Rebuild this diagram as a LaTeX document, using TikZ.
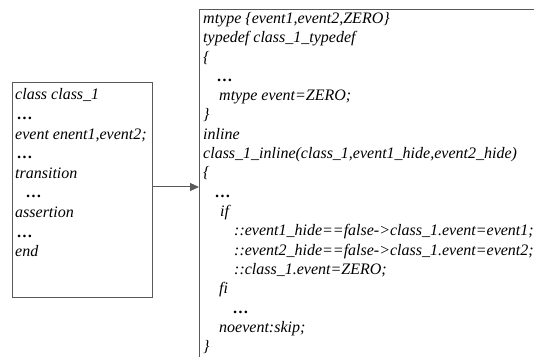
\documentclass[tikz,border=0pt]{standalone}
\usepackage{fontspec}
\setmainfont{Liberation Serif}
\usetikzlibrary{arrows.meta}
\begin{document}
\begin{tikzpicture}[x=1pt,y=1pt,
  boxline/.style={draw=black!65,line width=1pt},
  codeline/.style={anchor=base west,inner sep=0pt,font=\fontsize{16}{19.5}\selectfont\itshape},
  conn/.style={draw=black!65,line width=1pt,-{Triangle[length=9pt,width=8pt]}}]
\useasboundingbox (0,0) rectangle (534,356);
\clip (0,0) rectangle (534,356);
% boxes
\node[boxline,anchor=north west,minimum width=140pt,minimum height=215pt,inner sep=0pt] (lbox) at (12,274) {};
\node[boxline,anchor=north west,minimum width=400pt,minimum height=400pt,inner sep=0pt] (rbox) at (199,347) {};
% left box text
\node[codeline] (l1) at (15,256) {class class\_1};
\node[codeline] (l2) at (17,236.4) {\textbf{…}};
\node[codeline] (l3) at (15,216.8) {event enent1,event2;};
\node[codeline] (l4) at (17,197.2) {\textbf{…}};
\node[codeline] (l5) at (15,177.6) {transition};
\node[codeline] (l6) at (26,158) {\textbf{…}};
\node[codeline] (l7) at (15,138.4) {assertion};
\node[codeline] (l8) at (17,118.8) {\textbf{…}};
\node[codeline] (l9) at (15,99.2) {end};
% right box text
\node[codeline] (r1) at (203,332.5) {mtype \{event1,event2,ZERO\}};
\node[codeline] (r2) at (203,313.2) {typedef class\_1\_typedef};
\node[codeline] (r3) at (203,293.9) {\{};
\node[codeline] (r4) at (217,274.6) {\textbf{…}};
\node[codeline] (r5) at (219,255.3) {mtype event=ZERO;};
\node[codeline] (r6) at (203,236) {\}};
\node[codeline] (r7) at (203,216.7) {inline};
\node[codeline] (r8) at (203,197.4) {class\_1\_inline(class\_1,event1\_hide,event2\_hide)};
\node[codeline] (r9) at (203,178.1) {\{};
\node[codeline] (r10) at (215,158.8) {\textbf{…}};
\node[codeline] (r11) at (220,139.5) {if};
\node[codeline] (r12) at (234,120.2) {::event1\_hide==false->class\_1.event=event1;};
\node[codeline] (r13) at (234,100.9) {::event2\_hide==false->class\_1.event=event2;};
\node[codeline] (r14) at (234,81.6) {::class\_1.event=ZERO;};
\node[codeline] (r15) at (219,62.3) {fi};
\node[codeline] (r16) at (233,43) {\textbf{…}};
\node[codeline] (r17) at (219,23.7) {noevent:skip;};
\node[codeline] (r18) at (203,4.4) {\}};
% connector
\draw[conn] (lbox.east |- 0,169) -- (rbox.west |- 0,169);
\end{tikzpicture}
\end{document}
